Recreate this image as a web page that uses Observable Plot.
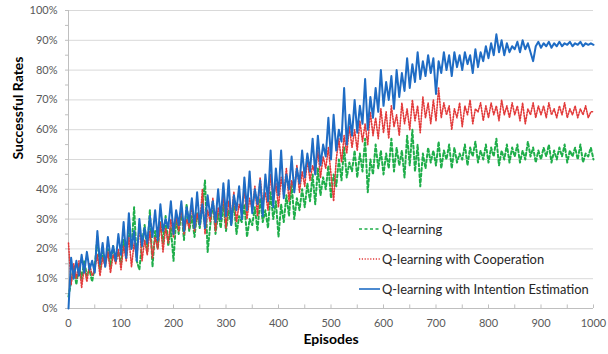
<!DOCTYPE html>
<html><head><meta charset="utf-8">
<script src="https://cdn.jsdelivr.net/npm/d3@7"></script>
<script src="https://cdn.jsdelivr.net/npm/@observablehq/plot@0.6"></script>
<style>
body{margin:0;background:#fff;}
#chart{width:608px;height:354px;}
</style></head><body><div id="chart"></div>
<script>
// Episodes sampled every 5
const episodes = d3.range(0, 1001, 5);

const seriesNames = ["Q-learning", "Q-learning with Cooperation", "Q-learning with Intention Estimation"];

const qLearning = [
  4, 9, 14, 8, 15, 10, 16, 11, 13, 9,
  14, 24, 13, 19, 15, 20, 14, 21, 16, 19,
  15, 23, 18, 27, 20, 34, 16, 13, 22, 28,
  19, 33, 14, 26, 20, 29, 22, 31, 21, 27,
  16, 30, 25, 33, 23, 35, 26, 31, 24, 32,
  27, 34, 43, 19, 28, 36, 25, 32, 27, 35,
  26, 33, 28, 36, 25, 31, 29, 35, 24, 30,
  28, 34, 26, 37, 29, 33, 27, 39, 30, 36,
  24, 35, 29, 38, 31, 42, 30, 37, 33, 40,
  34, 42, 36, 45, 35, 47, 38, 44, 40, 48,
  37, 45, 41, 50, 43, 54, 44, 49, 46, 53,
  44, 52, 46, 57, 39, 50, 45, 55, 47, 53,
  45, 52, 47, 57, 46, 54, 48, 53, 44, 58,
  48, 60, 46, 55, 41, 52, 47, 54, 49, 53,
  48, 56, 47, 53, 50, 55, 47, 54, 49, 52,
  50, 55, 48, 54, 51, 56, 49, 53, 50, 55,
  49, 54, 51, 57, 48, 53, 50, 55, 49, 54,
  51, 55, 49, 53, 50, 56, 51, 54, 49, 53,
  50, 54, 51, 55, 49, 53, 50, 54, 51, 55,
  49, 53, 51, 54, 50, 55, 49, 52, 51, 54,
  50
];

const qCooperation = [
  22, 8, 15, 10, 16, 7, 14, 9, 15, 11,
  13, 18, 11, 17, 14, 19, 12, 18, 15, 20,
  13, 21, 16, 24, 14, 22, 17, 28, 16, 23,
  18, 26, 17, 24, 20, 29, 19, 27, 22, 30,
  24, 31, 26, 34, 25, 30, 27, 35, 26, 32,
  28, 40, 25, 33, 29, 37, 26, 34, 30, 38,
  27, 36, 31, 39, 29, 35, 32, 40, 30, 37,
  33, 41, 31, 44, 35, 39, 33, 45, 36, 42,
  34, 44, 38, 47, 36, 43, 40, 48, 39, 46,
  41, 50, 43, 48, 45, 53, 44, 51, 47, 54,
  45, 36, 50, 57, 49, 58, 52, 61, 54, 60,
  53, 63, 56, 62, 55, 66, 58, 64, 57, 67,
  59, 66, 57, 68, 61, 65, 58, 69, 62, 67,
  60, 70, 63, 68, 59, 71, 64, 69, 62, 70,
  63, 74, 64, 69, 65, 68, 60, 67, 64, 69,
  61, 68, 65, 70, 62, 67, 66, 69, 63, 68,
  64, 69, 65, 68, 63, 70, 65, 68, 64, 69,
  65, 68, 63, 69, 62, 67, 65, 69, 64, 68,
  65, 68, 64, 69, 65, 67, 64, 68, 65, 69,
  64, 67, 65, 68, 64, 67, 65, 68, 64, 66,
  66
];

const qIntention = [
  0, 17, 10, 16, 11, 18, 12, 19, 13, 16,
  12, 26, 15, 22, 14, 24, 17, 21, 16, 25,
  18, 29, 17, 32, 20, 26, 16, 30, 21, 27,
  22, 31, 24, 33, 23, 35, 26, 30, 27, 36,
  25, 33, 28, 36, 26, 34, 29, 37, 27, 39,
  28, 35, 27, 38, 31, 36, 29, 40, 30, 42,
  31, 43, 28, 38, 33, 41, 30, 44, 33, 46,
  32, 40, 35, 43, 31, 45, 36, 53, 34, 47,
  38, 53, 37, 45, 40, 51, 39, 47, 42, 53,
  44, 52, 46, 57, 45, 58, 48, 55, 51, 64,
  50, 65, 53, 60, 56, 74, 55, 65, 58, 70,
  59, 68, 62, 77, 60, 71, 64, 74, 66, 80,
  68, 76, 70, 78, 67, 80, 71, 79, 73, 84,
  74, 82, 76, 86, 77, 83, 78, 85, 79, 84,
  72, 83, 79, 86, 80, 85, 78, 86, 81, 85,
  80, 86, 82, 85, 79, 87, 81, 86, 83, 88,
  84, 89, 85, 92, 86, 90, 85, 89, 86, 88,
  87, 89.5, 86, 90, 87, 89, 86, 83, 88, 89.5,
  87.5, 89, 88, 89.5, 87.5, 89, 88, 89.5, 88, 89,
  88.5, 89.5, 88, 89, 88.5, 89.5, 88, 89, 88.5, 89,
  88.5
];

const yTickValues = d3.range(0, 101, 10);
const yMinorTicks = d3.range(0, 101, 5);
const xTickValues = d3.range(0, 1001, 100);
const xMinorTicks = d3.range(0, 1001, 50);

const styles = [
  {stroke: "#1fae4a", strokeWidth: 2, strokeDasharray: "3,2.5"},
  {stroke: "#e23a3a", strokeWidth: 1.6, strokeDasharray: "1.2,1.6"},
  {stroke: "#1f6cc4", strokeWidth: 2, strokeDasharray: null}
];

const allSeries = [qLearning, qCooperation, qIntention];
const tables = allSeries.map((vals, k) => episodes.map((e, i) => ({episode: e, value: vals[i], series: seriesNames[k]})));

const FONT = "Lato, 'Liberation Sans', sans-serif";

const chart = Plot.plot({
  width: 608,
  height: 354,
  marginLeft: 68,
  marginRight: 15,
  marginTop: 10,
  marginBottom: 46,
  style: {fontFamily: FONT, fontSize: "11px", color: "#595959", background: "#fff"},
  x: {domain: [0, 1000]},
  y: {domain: [0, 100]},
  marks: [
    Plot.gridY(yTickValues.slice(1), {stroke: "#d9d9d9", strokeOpacity: 1}),
    Plot.axisY(yMinorTicks, {tickSize: 3, tickFormat: () => "", stroke: "#bfbfbf", label: null}),
    Plot.axisY(yTickValues, {tickSize: 0, tickPadding: 11, tickFormat: d => d + "%", label: null, fill: "#595959", fontSize: 11}),
    Plot.axisX(xTickValues, {tickSize: 0, tickPadding: 11, tickFormat: d => String(d), label: null, fill: "#595959", fontSize: 11}),
    Plot.ruleX(xMinorTicks, {y1: 0, y2: 1.2, stroke: "#bfbfbf"}),
    Plot.ruleY([0], {stroke: "#bfbfbf"}),
    Plot.ruleX([0], {stroke: "#bfbfbf"}),
    ...tables.map((t, k) => Plot.line(t, {x: "episode", y: "value", ...styles[k], strokeLinejoin: "round"})),
    Plot.text(["Successful Rates"], {frameAnchor: "left", dx: -50, rotate: -90, fontWeight: "bold", fontSize: 14, fill: "#000"}),
    Plot.text(["Episodes"], {frameAnchor: "bottom", dy: 35, fontWeight: "bold", fontSize: 14, fill: "#000"})
  ]
});

// Legend inside the plot
const svg = d3.select(chart);
const lg = svg.append("g").attr("font-family", FONT).attr("font-size", 12.9).attr("text-anchor", "start");
seriesNames.forEach((name, k) => {
  const y = 229 + k * 30;
  const s = styles[k];
  lg.append("line").attr("x1", 359).attr("x2", 380).attr("y1", y).attr("y2", y)
    .attr("stroke", s.stroke).attr("stroke-width", k === 1 ? 1.3 : 1.6)
    .attr("stroke-dasharray", s.strokeDasharray);
  lg.append("text").attr("x", 382).attr("y", y).attr("dy", "0.35em").attr("text-anchor", "start").attr("fill", "#262626").text(name);
});

document.getElementById("chart").appendChild(chart);
</script></body></html>
